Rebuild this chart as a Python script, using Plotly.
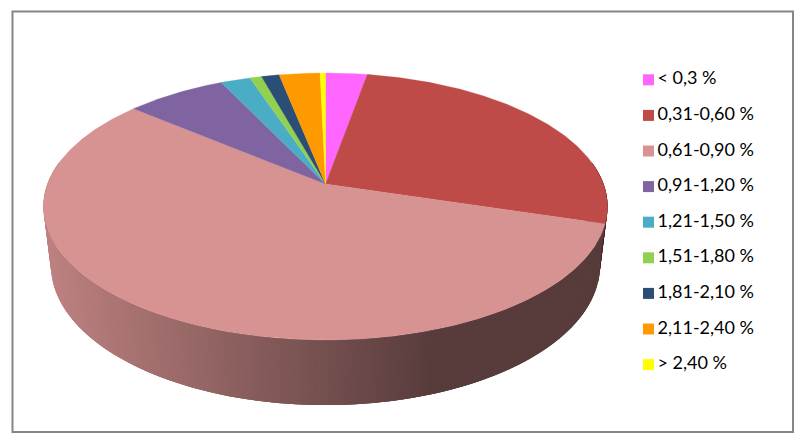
import numpy as np
import plotly.graph_objects as go

# classes and their share of the pie (%), clockwise from 12 o'clock
labels = ["< 0,3 %", "0,31-0,60 %", "0,61-0,90 %", "0,91-1,20 %", "1,21-1,50 %",
          "1,51-1,80 %", "1,81-2,10 %", "2,11-2,40 %", "> 2,40 %"]
shares = [2.8, 26.9, 56.4, 6.75, 2.0, 0.8, 1.2, 2.75, 0.36]
colors = ["#FF66FF", "#BE4B48", "#D79392", "#8064A2", "#4BACC6",
          "#92D050", "#2C4D75", "#FF9900", "#FFFF00"]

# perspective camera for the tilted disc, in page pixels
CX, CY = 325.5, 184
A, B = 278, 129.7      # disc radius on screen
K = 0.1685             # foreshortening front to back
M, D = 0.0267, 60      # thickness of the disc


def project(theta, level=0):
    t = np.radians(theta)
    w = 1 + K * np.cos(t) + M * level
    return CX + A * np.sin(t) / w, CY + (D * level - B * np.cos(t)) / w


def shade(x):
    # side wall gets darker to the right, flat after about x=430
    return float(np.interp(x, [50, 430], [0.88, 0.41]))


def scaled(color, f):
    r, g, b = [int(color[i:i + 2], 16) for i in (1, 3, 5)]
    return "rgb({},{},{})".format(round(r * f), round(g * f), round(b * f))


edges = np.concatenate([[0], np.cumsum(shares) / sum(shares) * 360])
fig = go.Figure()

# side wall, strips overlap the next one so no seams show
for i, color in enumerate(colors):
    start, end = max(edges[i], 80), min(edges[i + 1], 280)
    if start >= end:
        continue
    steps = np.append(np.arange(start, end, 0.5), end)
    for a, b in zip(steps[:-1], steps[1:]):
        over = min(b + 1, end)
        x0, y0 = project(a)
        x1, y1 = project(over)
        x2, y2 = project(over, 1)
        x3, y3 = project(a, 1)
        xm = (project(a)[0] + project(b)[0] + project(a, 1)[0] + project(b, 1)[0]) / 4
        fig.add_trace(go.Scatter(
            x=[x0, x1, x2, x3, x0], y=[y0, y1, y2, y3, y0],
            mode="lines", fill="toself", fillcolor=scaled(color, shade(xm)),
            line={"width": 0},
            hoverinfo="skip", showlegend=False,
        ))

# top face
for i, color in enumerate(colors):
    arc = np.linspace(edges[i], edges[i + 1], max(int(shares[i] * 8), 3))
    xs, ys = project(arc)
    fig.add_trace(go.Scatter(
        x=np.concatenate([[CX], xs, [CX]]), y=np.concatenate([[CY], ys, [CY]]),
        mode="lines", fill="toself", fillcolor=color,
        line={"color": color, "width": 0.3},
        name=labels[i], hoverinfo="name", showlegend=False,
    ))

# legend column on its own axes (x2 in pixels from the swatch centre), one row per class
fig.add_trace(go.Scatter(
    x=[0] * len(labels), y=labels, xaxis="x2", yaxis="y2",
    mode="markers",
    marker={"symbol": "square", "size": 11, "color": colors},
    cliponaxis=False, hoverinfo="skip", showlegend=False,
))
fig.add_trace(go.Scatter(
    x=[9] * len(labels), y=labels, xaxis="x2", yaxis="y2",
    mode="text", text=labels, textposition="middle right",
    textfont={"family": "Lato", "size": 18, "color": "#000000"},
    cliponaxis=False, hoverinfo="skip", showlegend=False,
))

fig.update_layout(
    width=802, height=440,
    margin={"l": 0, "r": 0, "t": 0, "b": 0},
    paper_bgcolor="white", plot_bgcolor="white",
    showlegend=False,
    xaxis={"range": [0, 802], "visible": False, "fixedrange": True},
    yaxis={"range": [440, 0], "visible": False, "fixedrange": True},
    xaxis2={"domain": [648.5 / 802, 790 / 802], "range": [0, 141.5], "visible": False,
            "anchor": "y2", "fixedrange": True},
    yaxis2={"domain": [1 - 382.4 / 440, 1 - 62 / 440], "range": [8.5, -0.5],
            "type": "category", "visible": False, "anchor": "x2", "fixedrange": True},
    shapes=[{"type": "rect", "xref": "x", "yref": "y", "x0": 12.5, "y0": 11.5,
             "x1": 793, "y1": 432, "line": {"color": "#868686", "width": 2}}],
)

fig.write_html("out.html", config={"displayModeBar": False},
               post_script="document.body.style.margin='0';")
